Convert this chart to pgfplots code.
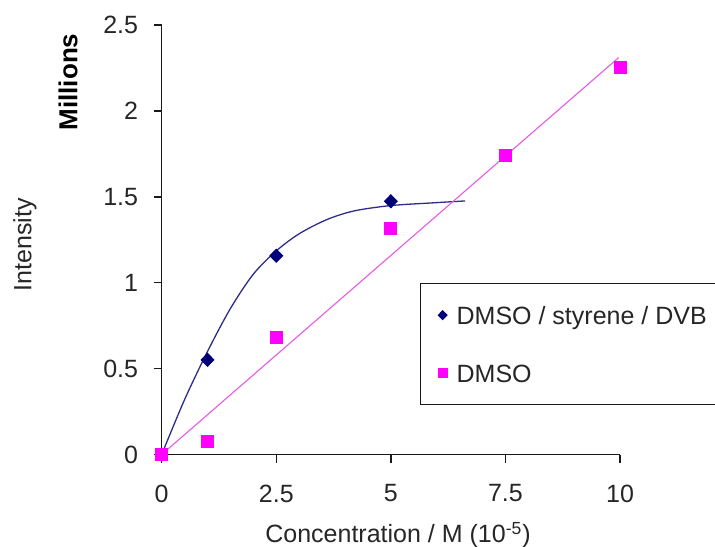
\documentclass[border=0pt]{standalone}
\usepackage{fontspec}
\setmainfont{Liberation Sans}
\usepackage{pgfplots}
\pgfplotsset{compat=1.18}
\definecolor{navyd}{RGB}{0,0,120}
\definecolor{navyl}{RGB}{45,45,135}
\definecolor{mag}{RGB}{255,0,255}
\definecolor{magl}{RGB}{230,90,230}
\begin{document}
\begin{tikzpicture}
\useasboundingbox (-80.85pt,-45.75pt) rectangle (276.65pt,227.25pt);
\begin{axis}[
  at={(0,0)}, anchor=south west,
  scale only axis,
  width=229.15pt, height=214.75pt,
  xmin=0, xmax=10, ymin=0, ymax=2.5,
  axis x line=bottom, axis y line=left,
  axis line style={-, line width=0.75pt, black!90},
  xtick={0,2.5,5,7.5,10},
  ytick={0,0.5,1,1.5,2,2.5},
  tick align=outside,
  major tick length=4pt,
  tick style={line width=0.75pt, black!90},
  /pgf/number format/assume math mode=true,
  tick label style={font=\fontsize{12.5}{15}\selectfont, text=black!85},
  xticklabel style={yshift=-7.6pt},
  yticklabel style={xshift=-4.3pt},
  clip=false,
  xlabel={Concentration / M (10\textsuperscript{-5})},
  xlabel style={at={(axis description cs:0.5156,0)}, anchor=center, yshift=-40.25pt, font=\fontsize{12.5}{15}\selectfont, text=black!85},
  ylabel={Intensity},
  ylabel style={at={(axis description cs:-0.2983,0.488)}, anchor=center, font=\fontsize{12.5}{15}\selectfont, text=black!85},
  legend cell align=left,
  legend style={at={(0.5636,0.3993)}, anchor=north west, draw=black!90, line width=0.65pt,
    inner xsep=8.9pt, inner ysep=11.25pt, row sep=20pt, column sep=4.9pt,
    font=\fontsize{12.5}{15}\selectfont, text=black!85,
    nodes={inner sep=0pt, text height=9pt, text depth=0pt}},
  legend image code/.code={\draw[#1, mark size=2.1pt] plot coordinates {(0pt,0pt)};},
]
% trend lines
\addplot[forget plot, navyl, line width=0.65pt, smooth, mark=none] coordinates {
  (0,0) (0.5,0.32) (1,0.6) (1.5,0.85) (2,1.05) (2.5,1.185)
  (3,1.285) (3.6,1.367) (4.2,1.418) (5,1.449) (5.93,1.465) (6.62,1.476)
};
\addplot[forget plot, magl, line width=0.55pt, mark=none] coordinates {
  (0,0) (9.97,2.31)
};
% data
\addplot[only marks, mark=diamond*, mark size=3.3pt, mark options={xscale=1.3, fill=navyd, draw=navyd}] coordinates {
  (0,0) (1,0.551) (2.5,1.157) (5,1.474)
};
\addlegendentry{DMSO / styrene / DVB}
\addplot[only marks, mark=square*, mark size=3pt, mark options={fill=mag, draw=mag}] coordinates {
  (0,0) (1,0.079) (2.5,0.681) (5,1.315) (7.5,1.74) (10,2.255)
};
\addlegendentry{DMSO}
\end{axis}
\node[rotate=90, font=\fontsize{13}{15}\selectfont\bfseries, text=black] at (-46.85pt,186.25pt) {Millions};
\end{tikzpicture}
\end{document}
